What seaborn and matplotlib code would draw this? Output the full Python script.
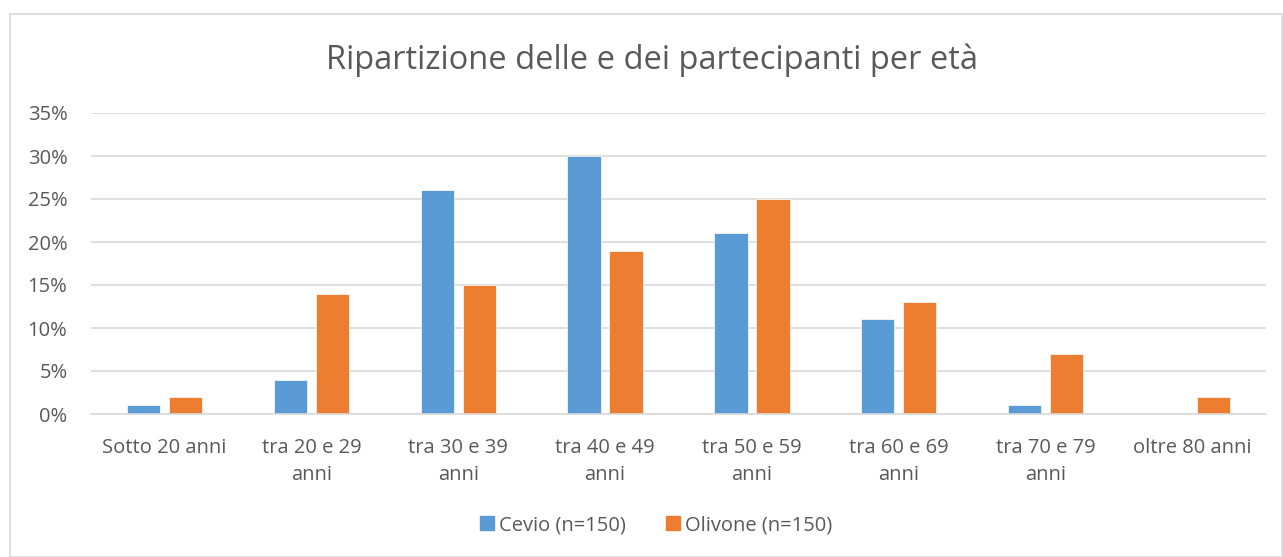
import matplotlib
matplotlib.use("Agg")
import matplotlib.pyplot as plt
import seaborn as sns
import pandas as pd
from matplotlib.patches import Rectangle
from matplotlib.ticker import FuncFormatter

categories = ["Sotto 20 anni", "tra 20 e 29\nanni", "tra 30 e 39\nanni", "tra 40 e 49\nanni",
              "tra 50 e 59\nanni", "tra 60 e 69\nanni", "tra 70 e 79\nanni", "oltre 80 anni"]
cevio = [1, 4, 26, 30, 21, 11, 1, 0]
olivone = [2, 14, 15, 19, 25, 13, 7, 2]
series_names = ["Cevio (n=150)", "Olivone (n=150)"]
colors = ["#5B9BD5", "#ED7D31"]

df = pd.DataFrame({
    "cat": categories * 2,
    "val": cevio + olivone,
    "serie": [series_names[0]] * len(categories) + [series_names[1]] * len(categories),
})

sns.set_theme(style="white")
plt.rcParams["font.family"] = ["Open Sans", "DejaVu Sans"]
text_col = "#595959"

fig = plt.figure(figsize=(12.83, 5.57), dpi=100)
fig.patches.append(Rectangle((10 / 1283, 0), (1283 - 11) / 1283, (557 - 14) / 557,
                             transform=fig.transFigure, fill=False, edgecolor="#D9D9D9", linewidth=1.2))
ax = fig.add_axes([91 / 1283, 143 / 557, 1175 / 1283, 301 / 557])

sns.barplot(data=df, x="cat", y="val", hue="serie", palette=colors, width=0.572, gap=0.21,
            ax=ax, legend=False, saturation=1, edgecolor="white", linewidth=0.5)

ax.set_ylim(0, 35)
ax.set_xlim(-0.5, len(categories) - 0.5)
ax.set_yticks(range(0, 36, 5))
ax.yaxis.set_major_formatter(FuncFormatter(lambda v, p: f"{int(v)}%"))
ax.yaxis.grid(True, color="#D9D9D9", linewidth=1.2)
ax.set_axisbelow(True)
for s in ["top", "right", "left"]:
    ax.spines[s].set_visible(False)
ax.spines["bottom"].set_color("#D9D9D9")
ax.spines["bottom"].set_linewidth(1.2)
ax.tick_params(axis="both", length=0, labelsize=14.5, colors=text_col)
ax.tick_params(axis="x", pad=17)
ax.tick_params(axis="y", pad=17)
for lbl in ax.get_xticklabels():
    lbl.set_linespacing(1.5)
ax.set_xlabel("")
ax.set_ylabel("")

fig.text(652 / 1283, 1 - 60 / 557, "Ripartizione delle e dei partecipanti per età",
         ha="center", va="center", fontsize=23.5, color=text_col)

handles = [Rectangle((0, 0), 1, 1, color=c) for c in colors]
fig.legend(handles, series_names, loc="center", bbox_to_anchor=(656 / 1283, 1 - 525 / 557), ncol=2,
           frameon=False, fontsize=14.5, labelcolor=text_col, handlelength=0.7, handleheight=0.7,
           handletextpad=0.25, columnspacing=2.0)

fig.savefig("out.png", dpi=100, facecolor="white")
